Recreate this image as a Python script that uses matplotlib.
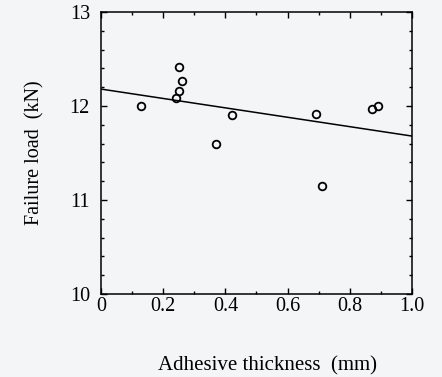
import matplotlib.pyplot as plt
from matplotlib.ticker import MultipleLocator

# Data
thickness = [0.13, 0.24, 0.25, 0.25, 0.26, 0.37, 0.42, 0.69, 0.71, 0.87, 0.89]
load = [12.00, 12.08, 12.16, 12.42, 12.27, 11.60, 11.90, 11.92, 11.15, 11.97, 12.00]

# Regression line end points
fit_x = [0.0, 1.0]
fit_y = [12.18, 11.68]

plt.rcParams['font.family'] = ['Liberation Serif', 'DejaVu Serif']

fig = plt.figure(figsize=(4.42, 3.77), dpi=100)
fig.patch.set_facecolor('#f3f5f6')
ax = fig.add_axes([0.2285, 0.2202, 0.7036, 0.748])
ax.set_facecolor('#f3f5f6')

ax.plot(fit_x, fit_y, color='black', linewidth=1.1)
ax.plot(thickness, load, linestyle='none', marker='o', markersize=5.5,
        markerfacecolor='none', markeredgecolor='black', markeredgewidth=1.3)

ax.set_xlim(0, 1.0)
ax.set_ylim(10, 13)
ax.xaxis.set_major_locator(MultipleLocator(0.2))
ax.xaxis.set_minor_locator(MultipleLocator(0.1))
ax.yaxis.set_major_locator(MultipleLocator(1))
ax.yaxis.set_minor_locator(MultipleLocator(0.2))
ax.set_xticks([0, 0.2, 0.4, 0.6, 0.8, 1.0])
ax.set_xticklabels(['0', '0.2', '0.4', '0.6', '0.8', '1.0'])

ax.tick_params(which='both', direction='in', top=True, right=True,
               labelsize=14.5, width=1)
ax.tick_params(which='major', length=4)
ax.tick_params(which='minor', length=2.5)
ax.tick_params(axis='x', pad=2)
ax.tick_params(axis='y', pad=8)
for s in ax.spines.values():
    s.set_linewidth(1.1)

ax.set_xlabel('Adhesive thickness  (mm)', fontsize=15)
ax.xaxis.set_label_coords(0.537, -0.222)
ax.set_ylabel('Failure load  (kN)', fontsize=14.5, labelpad=18)

fig.savefig('out.png', dpi=100, facecolor=fig.get_facecolor())
